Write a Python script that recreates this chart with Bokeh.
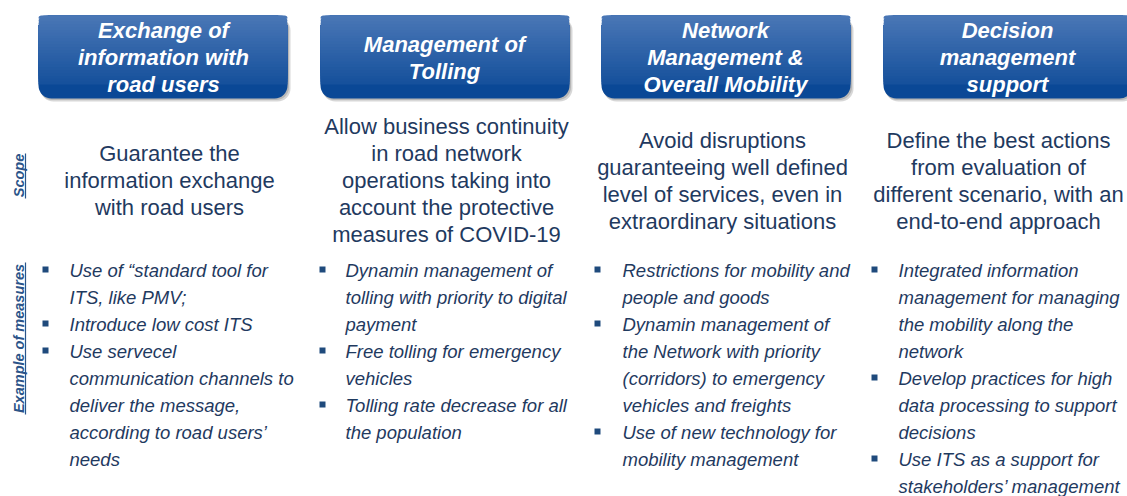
from bokeh.plotting import figure
from bokeh.models import Range1d
from bokeh.core.properties import value
from bokeh.embed import file_html
from bokeh.resources import INLINE
import math

# ---------------- data (texts) ----------------
headers = [
    ["Exchange of", "information with", "road users"],
    ["Management of", "Tolling"],
    ["Network", "Management &", "Overall Mobility"],
    ["Decision", "management", "support"],
]
scopes = [
    ["Guarantee the", "information exchange", "with road users"],
    ["Allow business continuity", "in road network", "operations taking into",
     "account the protective", "measures of COVID-19"],
    ["Avoid disruptions", "guaranteeing well defined", "level of services, even in",
     "extraordinary situations"],
    ["Define the best actions", "from evaluation of", "different scenario, with an",
     "end-to-end approach"],
]
measures = [
    [["Use of \u201cstandard tool for", "ITS, like PMV;"],
     ["Introduce low cost ITS"],
     ["Use servecel", "communication channels to", "deliver the message,",
      "according to road users\u2019", "needs"]],
    [["Dynamin management of", "tolling with priority to digital", "payment"],
     ["Free tolling for emergency", "vehicles"],
     ["Tolling rate decrease for all", "the population"]],
    [["Restrictions for mobility and", "people and goods"],
     ["Dynamin management of", "the Network with priority", "(corridors) to emergency",
      "vehicles and freights"],
     ["Use of new technology for", "mobility management"]],
    [["Integrated information", "management for managing", "the mobility along the",
      "network"],
     ["Develop practices for high", "data processing to support", "decisions"],
     ["Use ITS as a support for", "stakeholders\u2019 management"]],
]
row_labels = ["Scope", "Example of measures"]

# ---------------- layout ----------------
W, Hpx = 1127, 496
box_left = [38, 320, 601, 883]
box_w = 249
box_top, box_bot = 15, 98
radius = 13
header_cx = [163, 444, 725, 1007]
header_cy = 57
scope_cx = [169, 446, 722, 998]
scope_cy = 180
bullet_x = [45, 322, 597, 874]
text_x = [69, 345, 622, 898]
meas_y0 = 270
lh = 27

FONT = value("Liberation Sans")
TEXT_COL = "#1f3a5f"
BULLET_COL = "#1f4a7c"
LABEL_COL = "#2b5489"

p = figure(width=W, height=Hpx, x_range=Range1d(0, W), y_range=Range1d(Hpx, 0),
           output_backend="svg", toolbar_location=None, min_border=0,
           background_fill_color="white", border_fill_color="white")
p.axis.visible = False
p.grid.visible = False
p.outline_line_color = None


def hex2rgb(h):
    h = h.lstrip("#")
    return [int(h[i:i + 2], 16) for i in (0, 2, 4)]


def mix(c1, c2, t):
    a, b = hex2rgb(c1), hex2rgb(c2)
    return "#%02x%02x%02x" % tuple(int(round(a[i] + (b[i] - a[i]) * t)) for i in range(3))


top_c, bot_c = "#4a77b6", "#0a4896"
H = box_bot - box_top
rights = [l + box_w for l in box_left]

# shadows
p.quad(left=[l + 2 for l in box_left], right=[r + 3 for r in rights],
       top=[box_top + 2] * 4, bottom=[box_bot + 3] * 4, fill_color="#8c8c8c",
       fill_alpha=0.35, line_color=None, border_radius=radius)
p.quad(left=[l + 1 for l in box_left], right=[r + 1.5 for r in rights],
       top=[box_top + 1] * 4, bottom=[box_bot + 1.5] * 4, fill_color="#7a7a7a",
       fill_alpha=0.35, line_color=None, border_radius=radius)
# base boxes
p.quad(left=box_left, right=rights, top=[box_top] * 4,
       bottom=[box_bot] * 4, fill_color=bot_c, line_color=None, border_radius=radius)
# gradient bands
n = 24
tmax = (H - radius - 1) / H
for i in range(n, 0, -1):
    t = tmax * i / n
    col = mix(top_c, bot_c, t - tmax / n / 2)
    p.quad(left=box_left, right=rights, top=[box_top] * 4,
           bottom=[box_top + H * t] * 4, fill_color=col, line_color=None,
           border_radius=(radius, radius, 0, 0))

# header texts
hx, hy, ht = [], [], []
for j, lines in enumerate(headers):
    k = len(lines)
    for i, s in enumerate(lines):
        hx.append(header_cx[j])
        hy.append(header_cy + (i - (k - 1) / 2) * lh)
        ht.append(s)
p.text(x=hx, y=hy, text=ht, text_font=FONT, text_font_size=value("22px"),
       text_font_style="bold italic", text_color="white", text_align="center",
       text_baseline="middle")

# scope texts
sx, sy, st = [], [], []
for j, lines in enumerate(scopes):
    k = len(lines)
    for i, s in enumerate(lines):
        sx.append(scope_cx[j])
        sy.append(scope_cy + (i - (k - 1) / 2) * lh)
        st.append(s)
p.text(x=sx, y=sy, text=st, text_font=FONT, text_font_size=value("22px"),
       text_color=TEXT_COL, text_align="center", text_baseline="middle")

# measures
mx, my, mt, bx, by = [], [], [], [], []
for j, items in enumerate(measures):
    row = 0
    for item in items:
        bx.append(bullet_x[j])
        by.append(meas_y0 + row * lh - 1)
        for s in item:
            mx.append(text_x[j])
            my.append(meas_y0 + row * lh)
            mt.append(s)
            row += 1
p.rect(x=bx, y=by, width=6, height=6, fill_color=BULLET_COL, line_color=None)
p.text(x=mx, y=my, text=mt, text_font=FONT, text_font_size=value("18.5px"),
       text_font_style="italic", text_color=TEXT_COL, text_align="left",
       text_baseline="middle")

# rotated row labels
lab_y = [175, 338]
p.text(x=[18, 18], y=lab_y, text=row_labels, angle=math.pi / 2, text_font=FONT,
       text_font_size=value("14.5px"), text_font_style="bold italic",
       text_color=LABEL_COL, text_align="center", text_baseline="middle")
p.segment(x0=[25, 25], x1=[25, 25], y0=[153, 262], y1=[198, 414],
          line_color=LABEL_COL, line_width=1.2)

open("out.html", "w").write(file_html(p, INLINE))
